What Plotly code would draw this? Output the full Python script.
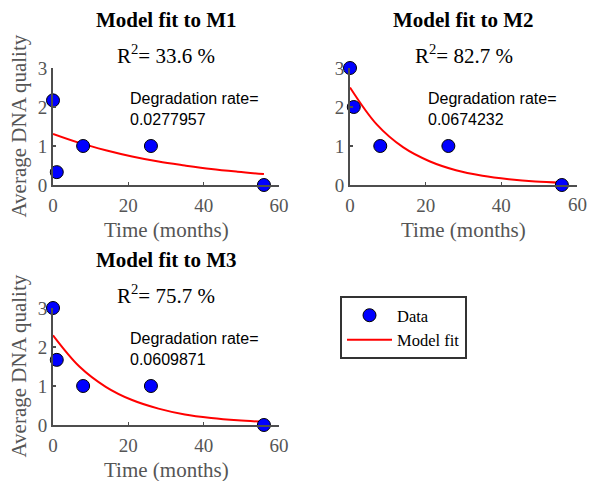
import plotly.graph_objects as go

# ---- data ----
time_months = [0, 1, 8, 26, 56]
m1_quality = [2.17, 0.33, 1, 1, 0]
m2_quality = [3, 2, 1, 1, 0]
m3_quality = [3, 1.67, 1, 1, 0]

fit_time = [0, 7, 14, 21, 28, 35, 42, 49, 56]
m1_fit = [1.31, 1.08, 0.89, 0.73, 0.60, 0.50, 0.41, 0.34, 0.28]
m2_fit = [2.50, 1.56, 0.97, 0.61, 0.38, 0.24, 0.15, 0.09, 0.06]
m3_fit = [2.30, 1.50, 0.98, 0.64, 0.42, 0.27, 0.18, 0.12, 0.08]

titles = ["Model fit to M1", "Model fit to M2", "Model fit to M3"]
r2_values = ["33.6", "82.7", "75.7"]
rates = ["0.0277957", "0.0674232", "0.0609871"]

x_ticks = [0, 20, 40, 60]
x_tick_labels = ["0", "20", "40", "60"]
y_ticks = [0, 1, 2, 3]

W, H = 589, 481
SERIF = "Liberation Serif, Times New Roman, serif"
SANS = "Liberation Sans, Arial, sans-serif"
AXC = "#4d4d4d"
TXC = "#555555"

# axes pixel boxes: (left, right, bottom(y=0), top(y=3))
boxes = [(53, 279, 185, 68), (350, 577, 185, 68), (53, 279, 425, 308)]

fig = go.Figure()
series = [(m1_quality, m1_fit), (m2_quality, m2_fit), (m3_quality, m3_fit)]

for i, (q, f) in enumerate(series):
    xa = "x" if i == 0 else f"x{i+1}"
    ya = "y" if i == 0 else f"y{i+1}"
    fig.add_trace(go.Scatter(x=fit_time, y=f, mode="lines", line=dict(color="#ff0000", width=2, shape="spline"),
                             name="Model fit", showlegend=(i == 0), legendrank=2, xaxis=xa, yaxis=ya,
                             cliponaxis=False))
    fig.add_trace(go.Scatter(x=time_months, y=q, mode="markers",
                             marker=dict(color="#0000ff", size=13, line=dict(color="black", width=1)),
                             name="Data", showlegend=(i == 0), legendrank=1, xaxis=xa, yaxis=ya,
                             cliponaxis=False))

layout = dict(template="none", width=W, height=H, margin=dict(l=0, r=0, t=0, b=0, pad=0),
              paper_bgcolor="white", plot_bgcolor="white", showlegend=True, hovermode=False)

annotations = []
for i, (l, r, b, t) in enumerate(boxes):
    sfx = "" if i == 0 else str(i + 1)
    xdom = [l / W, r / W]
    ydom = [1 - b / H, 1 - t / H]
    # right-hand panel: its last tick label sits at the page edge, draw it as a text note
    labels = x_tick_labels if i != 1 else x_tick_labels[:-1] + [""]
    layout["xaxis" + sfx] = dict(domain=xdom, range=[0, 60], tickvals=x_ticks, ticktext=labels,
                                 ticks="inside", ticklen=3,
                                 tickwidth=1.5, tickcolor=AXC, showline=True, linecolor=AXC, linewidth=2,
                                 showgrid=False, zeroline=False, anchor="y" + sfx, automargin=False,
                                 ticklabelstandoff=2, ticklabeloverflow="allow",
                                 tickfont=dict(family=SERIF, size=19, color=TXC), fixedrange=True)
    layout["yaxis" + sfx] = dict(domain=ydom, range=[0, 3], tickvals=y_ticks, ticks="inside", ticklen=3,
                                 tickwidth=1.5, tickcolor=AXC, showline=True, linecolor=AXC, linewidth=2,
                                 showgrid=False, zeroline=False, anchor="x" + sfx, automargin=False,
                                 ticklabeloverflow="allow",
                                 tickfont=dict(family=SERIF, size=19, color=TXC), fixedrange=True)
    if i == 1:
        annotations.append(dict(text=x_tick_labels[-1], x=r / W, xref="paper", y=1 - (b + 20) / H,
                                yref="paper", showarrow=False, xanchor="center", yanchor="middle",
                                font=dict(family=SERIF, size=19, color=TXC)))
    cx = (l + r) / 2
    annotations.append(dict(text="<b>" + titles[i] + "</b>", x=cx / W, y=1 - (t - 48) / H, xref="paper",
                            yref="paper", showarrow=False, xanchor="center", yanchor="middle",
                            font=dict(family=SERIF, size=21, color="black")))
    annotations.append(dict(text="R<sup>2</sup>= " + r2_values[i] + " %", x=cx / W, y=1 - (t - 14) / H,
                            xref="paper", yref="paper", showarrow=False, xanchor="center", yanchor="middle",
                            font=dict(family=SERIF, size=21, color="black")))
    annotations.append(dict(text="Degradation rate=<br>" + rates[i], x=20, y=1.96, xref="x" + sfx,
                            yref="y" + sfx, showarrow=False, xanchor="left", yanchor="middle", align="left",
                            font=dict(family=SANS, size=16, color="black")))
    annotations.append(dict(text="Time (months)", x=cx / W, y=1 - (b + 45) / H, xref="paper", yref="paper",
                            showarrow=False, xanchor="center", yanchor="middle",
                            font=dict(family=SERIF, size=21, color=TXC)))
    if i != 1:
        annotations.append(dict(text="Average DNA quality", x=18 / W, y=1 - ((b + t) / 2) / H, xref="paper",
                                yref="paper", showarrow=False, xanchor="center", yanchor="middle",
                                textangle=-90, font=dict(family=SERIF, size=21, color=TXC)))

layout["annotations"] = annotations
layout["legend"] = dict(x=340 / W, y=1 - 296 / H, xanchor="left", yanchor="top", bgcolor="white",
                        bordercolor="#333333", borderwidth=2, font=dict(family=SERIF, size=16.5, color="black"),
                        itemwidth=45, tracegroupgap=0)
fig.update_layout(**layout)
fig.write_html("out.html", config={"displayModeBar": False, "staticPlot": True},
               post_script="document.body.style.margin='0px';document.body.style.overflow='hidden';")
